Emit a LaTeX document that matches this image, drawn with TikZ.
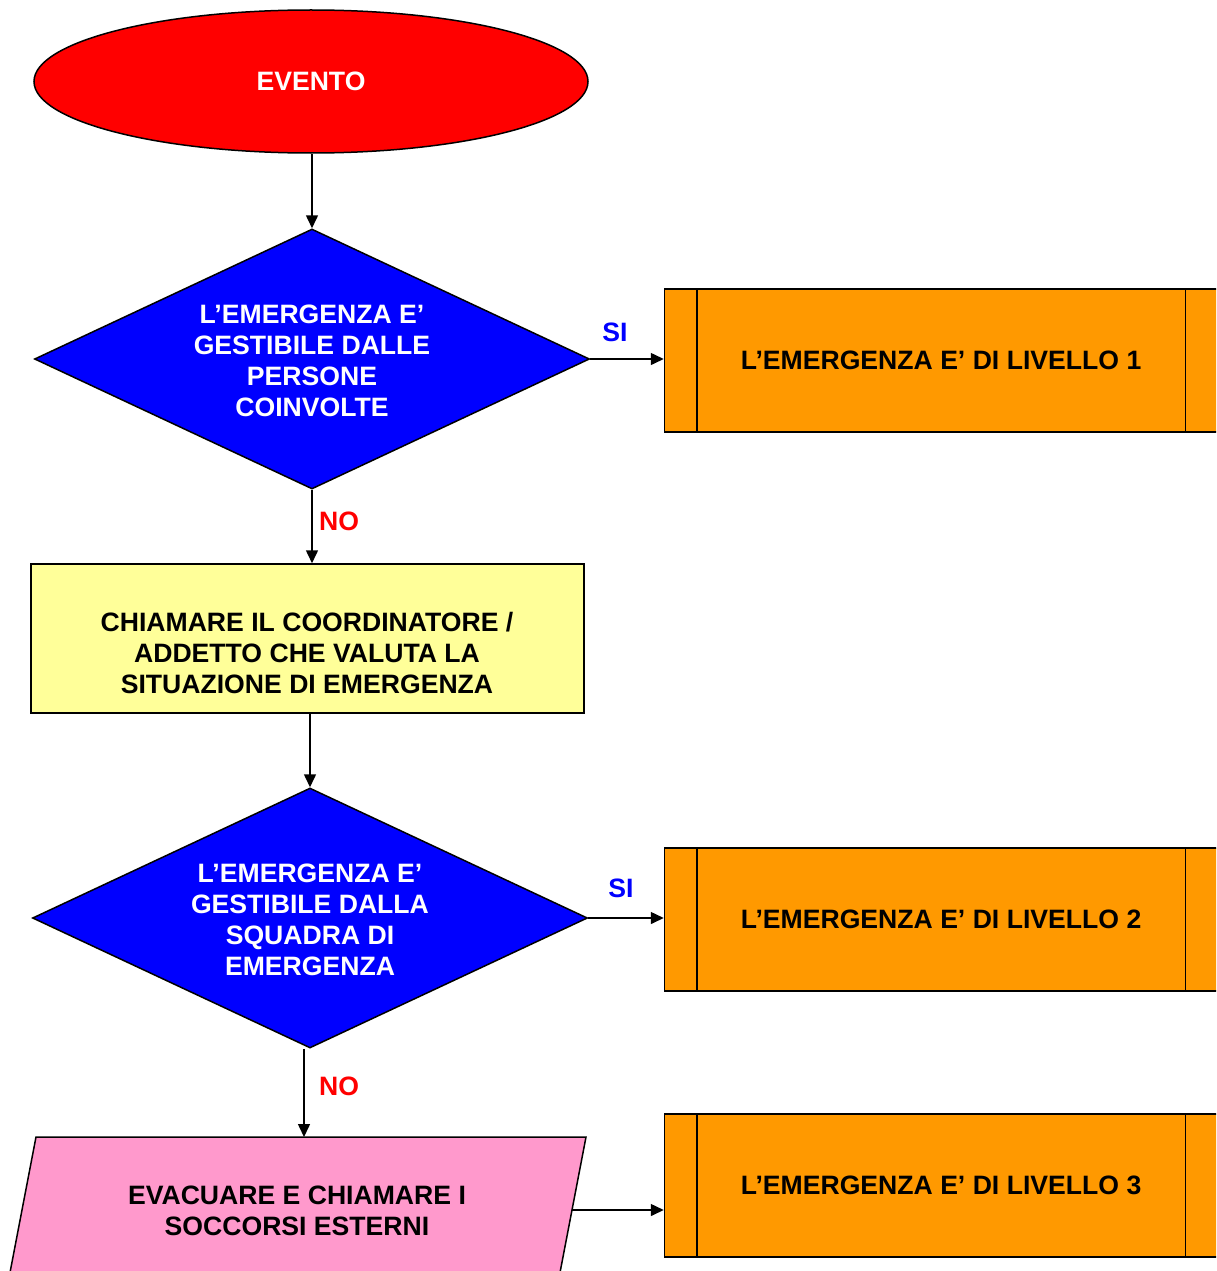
\documentclass[tikz,border=0pt]{standalone}
\usepackage{fontspec}
\setmainfont{Liberation Sans}
\usetikzlibrary{shapes.geometric,arrows.meta}
\definecolor{evred}{HTML}{FF0000}
\definecolor{decblue}{HTML}{0000FF}
\definecolor{lvorange}{HTML}{FF9900}
\definecolor{callyellow}{HTML}{FFFF99}
\definecolor{evpink}{HTML}{FF99CC}
\definecolor{sicol}{HTML}{0000FF}
\definecolor{nocol}{HTML}{FF0000}
\begin{document}
\begin{tikzpicture}[x=1pt,y=-1pt,line width=1.5pt,
  txt/.style={font=\fontsize{26.6}{31}\selectfont\bfseries,align=center},
  arr/.style={draw,-{Triangle[length=13pt,width=12pt]}},
  decision/.style={diamond,draw,fill=decblue,aspect=2.13,minimum width=555pt,minimum height=260pt,inner sep=0pt},
  levelbox/.style={rectangle,draw,fill=lvorange,minimum width=553pt,minimum height=143pt,inner sep=0pt,txt},
  yeslbl/.style={txt,text=sicol},
  nolbl/.style={txt,text=nocol}]
\useasboundingbox (0,0) rectangle (1216,1271);
\clip (0,0) rectangle (1216,1271);
% start
\node[ellipse,draw,fill=evred,minimum width=554pt,minimum height=143pt,inner sep=0pt,txt,text=white] (ev) at (311,81.5) {EVENTO};
% decision 1
\node[decision] (d1) at (312,359) {};
\node[txt,text=white] (d1t) at (312,361) {L’EMERGENZA E’\\GESTIBILE DALLE\\PERSONE\\COINVOLTE};
% level 1
\node[levelbox] (b1) at (941,360.5) {L’EMERGENZA E’ DI LIVELLO 1};
\draw ([xshift=33pt]b1.north west) -- ([xshift=33pt]b1.south west);
\draw ([xshift=-33pt]b1.north east) -- ([xshift=-33pt]b1.south east);
% call coordinator
\node[rectangle,draw,fill=callyellow,minimum width=553pt,minimum height=149pt,inner sep=0pt] (y1) at (307.5,638.5) {};
\node[txt] (y1t) at (307,652.5) {CHIAMARE IL COORDINATORE /\\ADDETTO CHE VALUTA LA\\SITUAZIONE DI EMERGENZA};
% decision 2
\node[decision] (d2) at (310,918) {};
\node[txt,text=white] (d2t) at (310,920) {L’EMERGENZA E’\\GESTIBILE DALLA\\SQUADRA DI\\EMERGENZA};
% level 2
\node[levelbox] (b2) at (941,919.5) {L’EMERGENZA E’ DI LIVELLO 2};
\draw ([xshift=33pt]b2.north west) -- ([xshift=33pt]b2.south west);
\draw ([xshift=-33pt]b2.north east) -- ([xshift=-33pt]b2.south east);
% evacuate
\draw[fill=evpink] (36,1137) -- (586,1137) -- (558,1283) -- (8,1283) -- cycle;
\node[txt] (evt) at (297,1210.5) {EVACUARE E CHIAMARE I\\SOCCORSI ESTERNI};
\coordinate (ptop) at (304,1137);
\coordinate (pright) at (572,1210);
% level 3
\node[levelbox] (b3) at (941,1185.5) {L’EMERGENZA E’ DI LIVELLO 3};
\draw ([xshift=33pt]b3.north west) -- ([xshift=33pt]b3.south west);
\draw ([xshift=-33pt]b3.north east) -- ([xshift=-33pt]b3.south east);
% connectors
\draw[arr] (d1.north |- ev.south) -- (d1.north);
\draw[arr] (d1.east) -- (d1.east -| b1.west);
\draw[arr] (d1.south) -- (d1.south |- y1.north);
\draw[arr] (d2.north |- y1.south) -- (d2.north);
\draw[arr] (d2.east) -- (d2.east -| b2.west);
\draw[arr] (ptop |- d2.south) -- (ptop);
\draw[arr] (pright) -- (pright -| b3.west);
% labels
\node[yeslbl] (si1) at (615,332) {SI};
\node[nolbl] (no1) at (339,521) {NO};
\node[yeslbl] (si2) at (621,888) {SI};
\node[nolbl] (no2) at (339,1086) {NO};
\end{tikzpicture}
\end{document}
